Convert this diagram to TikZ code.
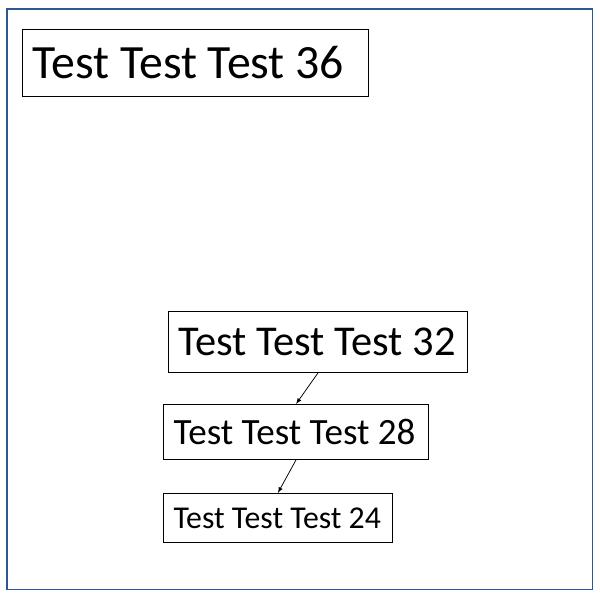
\documentclass[tikz,border=0pt]{standalone}
\usepackage{fontspec}
\setmainfont{Carlito}
\usepackage{tikz}
\usetikzlibrary{arrows,shapes}
\definecolor{framecol}{RGB}{47,85,151}
\tikzset{box/.style={draw, line width=0.8pt, anchor=north west, inner xsep=8pt, inner ysep=2pt, align=flush left}}

\begin{document}
\begin{tikzpicture}[x=0.02797cm, y=-0.02797cm]
\useasboundingbox (0,0) rectangle (600,600);
\draw [framecol, line width=0.8pt] (7,9) rectangle (592,589);

\node [box, text width=259pt, minimum height=53pt, font=\fontsize{38}{40}\selectfont] (t36) at (22,29) {Test~Test~Test~36};
\node [box, text width=222pt, minimum height=48.4pt, font=\fontsize{33.8}{36}\selectfont] (t32) at (168,311) {Test~Test~Test~32};
\node [box, text width=195pt, minimum height=43.6pt, font=\fontsize{29.5}{32}\selectfont] (t28) at (163,404) {Test~Test~Test~28};
\node [box, text width=166pt, minimum height=38.9pt, font=\fontsize{25.3}{28}\selectfont] (t24) at (163,493) {Test~Test~Test~24};

\draw [-latex, line width=0.6pt] (t32.south) -- (t28.north);
\draw [-latex, line width=0.6pt] (t28.south) -- (t24.north);
\end{tikzpicture}
\end{document}
